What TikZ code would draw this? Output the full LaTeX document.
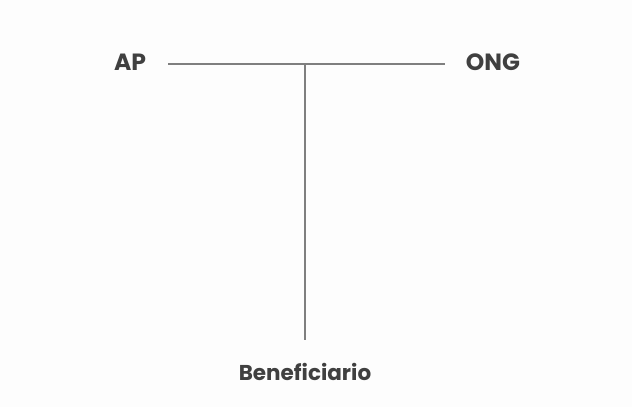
\documentclass[tikz,border=0pt]{standalone}
\usepackage{fontspec}
\setmainfont{Poppins}[BoldFont={Poppins Bold}]
\definecolor{txt}{HTML}{404040}
\definecolor{ln}{HTML}{7F7F7F}
\definecolor{bg}{HTML}{FDFDFD}
\begin{document}
\begin{tikzpicture}[x=1pt,y=-1pt,
  lbl/.style={text=txt,font=\bfseries\fontsize{21.5}{24}\selectfont,inner sep=0pt},
  big/.style={lbl,font=\bfseries\fontsize{23.5}{26}\selectfont},
  conn/.style={draw=ln,line width=2.2pt}]
\fill[bg] (0,0) rectangle (632,407);
\useasboundingbox (0,0) rectangle (632,407);
\node[big] (AP) at (130,62) {AP};
\node[big] (ONG) at (493,62) {ONG};
\node[lbl] (BEN) at (305,372) {Beneficiario};
\coordinate (L) at (168,64);
\coordinate (R) at (445,64);
\coordinate (J) at (305,64);
\coordinate (B) at (305,340);
\draw[conn] (L) -- (R);
\draw[conn] (J) -- (B);
\end{tikzpicture}
\end{document}
